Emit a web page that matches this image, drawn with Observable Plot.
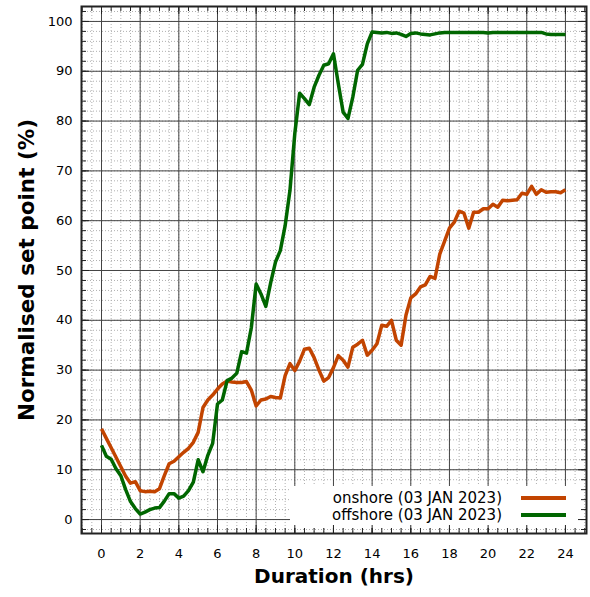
<!DOCTYPE html>
<html><head><meta charset="utf-8">
<script src="https://cdn.jsdelivr.net/npm/d3@7"></script>
<script src="https://cdn.jsdelivr.net/npm/@observablehq/plot@0.6"></script>
<style>html,body{margin:0;padding:0;background:#fff} svg{display:block}</style>
</head><body><div id="chart"></div>
<script>
const hours = [0,0.25,0.5,0.75,1,1.25,1.5,1.75,2,2.25,2.5,2.75,3,3.25,3.5,3.75,4,4.25,4.5,4.75,5,5.25,5.5,5.75,6,6.25,6.5,6.75,7,7.25,7.5,7.75,8,8.25,8.5,8.75,9,9.25,9.5,9.75,10,10.25,10.5,10.75,11,11.25,11.5,11.75,12,12.25,12.5,12.75,13,13.25,13.5,13.75,14,14.25,14.5,14.75,15,15.25,15.5,15.75,16,16.25,16.5,16.75,17,17.25,17.5,17.75,18,18.25,18.5,18.75,19,19.25,19.5,19.75,20,20.25,20.5,20.75,21,21.25,21.5,21.75,22,22.25,22.5,22.75,23,23.25,23.5,23.75,24];
const onshore = [18.2,16.3,14.4,12.5,10.6,8.7,7.3,7.6,5.8,5.6,5.7,5.6,6.2,8.8,11.2,11.7,12.6,13.5,14.3,15.5,17.5,22.5,24.0,25.0,26.2,27.2,27.8,27.6,27.5,27.5,27.7,26.0,22.8,24.0,24.2,24.7,24.5,24.4,28.9,31.3,29.9,31.8,34.2,34.4,32.5,30.0,27.8,28.5,30.5,32.9,32.0,30.6,34.6,35.2,36.0,33.0,34.0,35.3,39.0,38.8,40.0,36.0,35.0,41.0,44.5,45.3,46.7,47.1,48.8,48.4,53.3,55.9,58.5,59.7,61.9,61.5,58.5,61.7,61.7,62.4,62.4,63.3,62.7,64.1,64.0,64.1,64.2,65.5,65.3,66.9,65.3,66.2,65.7,65.8,65.8,65.6,66.2];
const offshore = [14.9,12.7,12.1,10.2,8.8,6.0,3.6,2.2,1.1,1.5,2.0,2.3,2.4,3.7,5.2,5.2,4.3,4.7,5.8,7.5,12.0,9.6,12.9,15.3,23.2,24.0,27.9,28.4,29.4,33.7,33.4,38.5,47.3,45.3,42.8,47.5,51.7,54.0,59.0,66.1,77.5,85.6,84.5,83.3,86.8,89.2,91.2,91.5,93.5,87.5,81.8,80.5,84.8,90.2,91.4,95.5,97.9,97.8,97.7,97.8,97.6,97.7,97.4,97.0,97.6,97.7,97.5,97.4,97.3,97.5,97.7,97.8,97.8,97.8,97.8,97.8,97.8,97.8,97.8,97.8,97.7,97.8,97.8,97.8,97.8,97.8,97.8,97.8,97.8,97.8,97.8,97.8,97.5,97.4,97.4,97.4,97.4];
const seriesNames = ["onshore (03 JAN 2023)", "offshore (03 JAN 2023)"];
const seriesColors = ["#c24400", "#006600"];
const xTicks = [0,2,4,6,8,10,12,14,16,18,20,22,24];
const yTicks = [0,10,20,30,40,50,60,70,80,90,100];
const xLabel = "Duration (hrs)";
const yLabel = "Normalised set point (%)";

const W = 590, H = 597, mL = 81, mR = 4, mT = 6, mB = 64;
const PW = W - mL - mR, PH = H - mT - mB;
const xMinor = d3.range(-1, 25.01, 0.5);
const yMinor = d3.range(-2, 102.01, 2);

const data = [];
hours.forEach((h, i) => {
  data.push({h, v: onshore[i], s: seriesNames[0]});
});
hours.forEach((h, i) => {
  data.push({h, v: offshore[i], s: seriesNames[1]});
});

const FONT = "'DejaVu Sans', Verdana, sans-serif";
const tickColor = "#222";
const chart = Plot.plot({
  width: W, height: H,
  marginLeft: mL, marginRight: mR, marginTop: mT, marginBottom: mB,
  style: {fontFamily: FONT, fontSize: "13px", background: "#fff", color: "#000"},
  x: {domain: [-1.035, 25.09]},
  y: {domain: [-2.8, 103]},
  color: {domain: seriesNames, range: seriesColors},
  marks: [
    Plot.ruleX(xMinor, {stroke: "#b0b0b0", strokeWidth: 1, strokeDasharray: "1,2"}),
    Plot.ruleY(yMinor, {stroke: "#b0b0b0", strokeWidth: 1, strokeDasharray: "1,2"}),
    Plot.ruleX(xTicks, {stroke: "#444", strokeWidth: 1}),
    Plot.ruleY(yTicks, {stroke: "#444", strokeWidth: 1}),
    Plot.line(data, {x: "h", y: "v", z: "s", stroke: "s", strokeWidth: 3.5, strokeLinejoin: "round", strokeLinecap: "butt"}),
    // inward tick marks on all four sides
    Plot.ruleX(xMinor, {stroke: tickColor, insetTop: PH - 5}),
    Plot.ruleX(xMinor, {stroke: tickColor, insetBottom: PH - 5}),
    Plot.ruleX(xTicks, {stroke: tickColor, insetTop: PH - 8}),
    Plot.ruleX(xTicks, {stroke: tickColor, insetBottom: PH - 8}),
    Plot.ruleY(yMinor, {stroke: tickColor, insetRight: PW - 5}),
    Plot.ruleY(yMinor, {stroke: tickColor, insetLeft: PW - 5}),
    Plot.ruleY(yTicks, {stroke: tickColor, insetRight: PW - 8}),
    Plot.ruleY(yTicks, {stroke: tickColor, insetLeft: PW - 8}),
    Plot.frame({stroke: "#222", strokeWidth: 2}),
    Plot.axisX(xTicks, {tickSize: 0, tickPadding: 15, label: null, fontSize: 13}),
    Plot.axisY(yTicks, {tickSize: 0, tickPadding: 9, label: null, fontSize: 13}),
    Plot.text([xLabel], {frameAnchor: "bottom", lineAnchor: "middle", dy: 43.5, fontSize: 20, fontWeight: "bold", fill: "#000"}),
    Plot.text([yLabel], {frameAnchor: "left", textAnchor: "middle", lineAnchor: "middle", dx: -54, rotate: -90, fontSize: 21.5, fontWeight: "bold", fill: "#000"})
  ]
});

// legend inside the plot, under the ticks/frame and over the grid
const lineG = chart.querySelector('g[aria-label="line"]');
const leg = d3.create("svg:g").attr("class", "legend");
leg.append("rect").attr("x", 290).attr("y", 486).attr("width", 294).attr("height", 42).attr("fill", "#fff");
const rows = [498, 515];
seriesNames.forEach((name, i) => {
  leg.append("text").attr("x", 502).attr("y", rows[i]).attr("dy", "0.35em")
    .attr("text-anchor", "end").attr("font-size", 15)
    .attr("font-family", FONT).attr("fill", "#000").text(name);
  leg.append("line").attr("x1", 521).attr("x2", 566).attr("y1", rows[i]).attr("y2", rows[i])
    .attr("stroke", seriesColors[i]).attr("stroke-width", 4);
});
chart.insertBefore(leg.node(), lineG);
document.getElementById("chart").appendChild(chart);
</script>
</body></html>
